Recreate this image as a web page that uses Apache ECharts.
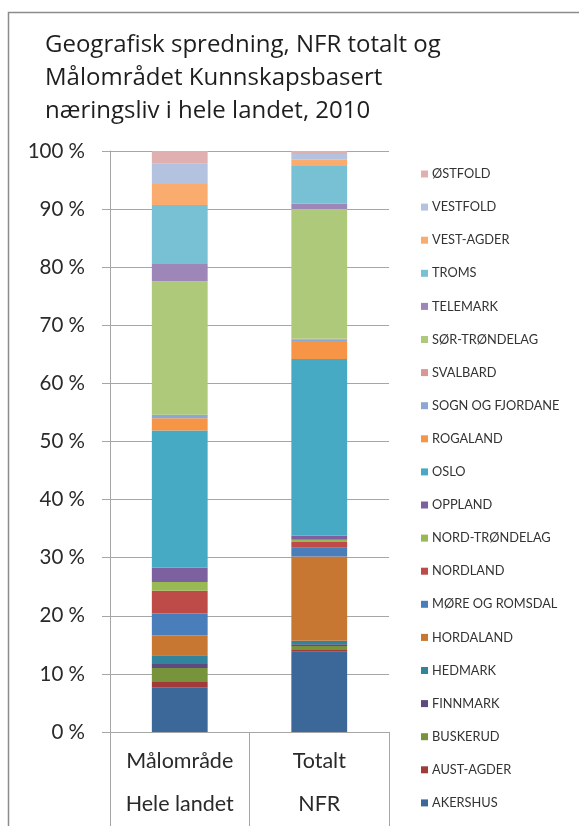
<!DOCTYPE html>
<html>
<head>
<meta charset="utf-8">
<script src="https://cdn.jsdelivr.net/npm/echarts@6/dist/echarts.min.js"></script>
<style>
html,body{margin:0;padding:0;background:#fff;}
#chart{width:579px;height:826px;}
</style>
</head>
<body>
<div id="chart"></div>
<script>
// Categories (x axis)
const categories = ['Målområde\nHele landet', 'Totalt\nNFR'];
// Regions, bottom of the stack first
const regions = ['AKERSHUS','AUST-AGDER','BUSKERUD','FINNMARK','HEDMARK','HORDALAND','MØRE OG ROMSDAL','NORDLAND','NORD-TRØNDELAG','OPPLAND','OSLO','ROGALAND','SOGN OG FJORDANE','SVALBARD','SØR-TRØNDELAG','TELEMARK','TROMS','VEST-AGDER','VESTFOLD','ØSTFOLD'];
// Shares (%) per region, same order as regions
const malomradeHeleLandet = [7.7,0.9,2.4,0.7,1.5,3.4,3.8,3.9,1.5,2.5,23.6,2.1,0.6,0.0,23.0,3.1,10.0,3.6,3.5,2.2];
const totaltNFR          = [13.8,0.3,0.7,0.3,0.6,14.5,1.5,1.0,0.4,0.7,30.4,3.1,0.3,0.1,22.3,0.9,6.5,1.1,1.0,0.5];
// Y axis ticks
const yTicks = [0,10,20,30,40,50,60,70,80,90,100];

const colors = ['#3B6799','#A33A3A','#77933C','#5F4A7E','#31849B','#C77731','#4A7EBB','#BE4B48','#98B954','#7D60A0','#46AAC5','#F69546','#8CA7D4','#D99694','#AFC97A','#9C87B8','#78C0D4','#F9AC6E','#B3C3DF','#DFB0AF'];

const FONT = 'Lato, "Open Sans", sans-serif';
const chart = echarts.init(document.getElementById('chart'), null, {renderer:'canvas'});

const series = regions.map((name, i) => ({
  name: name,
  type: 'bar',
  stack: 'total',
  barWidth: '40%',
  itemStyle: {color: colors[i]},
  emphasis: {disabled: true},
  data: [malomradeHeleLandet[i], totaltNFR[i]]
}));

chart.setOption({
  animation: false,
  textStyle: {fontFamily: FONT},
  graphic: [{
    type: 'rect', z: -1,
    shape: {x: 8.5, y: 12.5, width: 620, height: 860},
    style: {fill: 'none', stroke: '#8c8c8c', lineWidth: 1.5}
  }],
  title: {
    text: 'Geografisk spredning, NFR totalt og\nMålområdet Kunnskapsbasert\nnæringsliv i hele landet, 2010',
    left: 45, top: 29, padding: 0,
    textStyle: {fontFamily: '"Open Sans", Lato, sans-serif', fontSize: 24, fontWeight: 'normal', color: '#1e1e1e', lineHeight: 33}
  },
  legend: {
    orient: 'vertical',
    left: 421, top: 167,
    padding: 0,
    itemWidth: 7, itemHeight: 7, itemGap: 19.1,
    icon: 'rect',
    selectedMode: false,
    data: regions.slice().reverse(),
    textStyle: {fontFamily: FONT, fontSize: 12.8, lineHeight: 14, color: '#333333', padding: [0,0,0,-1]}
  },
  grid: {left: 110, right: 190, top: 151, bottom: 92, containLabel: false},
  xAxis: {
    type: 'category',
    data: categories,
    axisLine: {show: true, lineStyle: {color: '#a6a6a6', width: 1}},
    axisTick: {show: true, length: 95, interval: 0, lineStyle: {color: '#a6a6a6', width: 1}},
    axisLabel: {fontFamily: FONT, fontSize: 21.5, color: '#2a2a2a', lineHeight: 43, margin: 8, interval: 0}
  },
  yAxis: {
    type: 'value',
    min: yTicks[0], max: yTicks[yTicks.length-1], interval: 10,
    axisLine: {show: true, lineStyle: {color: '#a6a6a6', width: 1}},
    axisTick: {show: true, length: 8, lineStyle: {color: '#a6a6a6'}},
    splitLine: {show: true, lineStyle: {color: '#a6a6a6', width: 1}},
    axisLabel: {fontFamily: FONT, fontSize: 20.5, color: '#2a2a2a', margin: 25, formatter: '{value} %'}
  },
  series: series
});
</script>
</body>
</html>
